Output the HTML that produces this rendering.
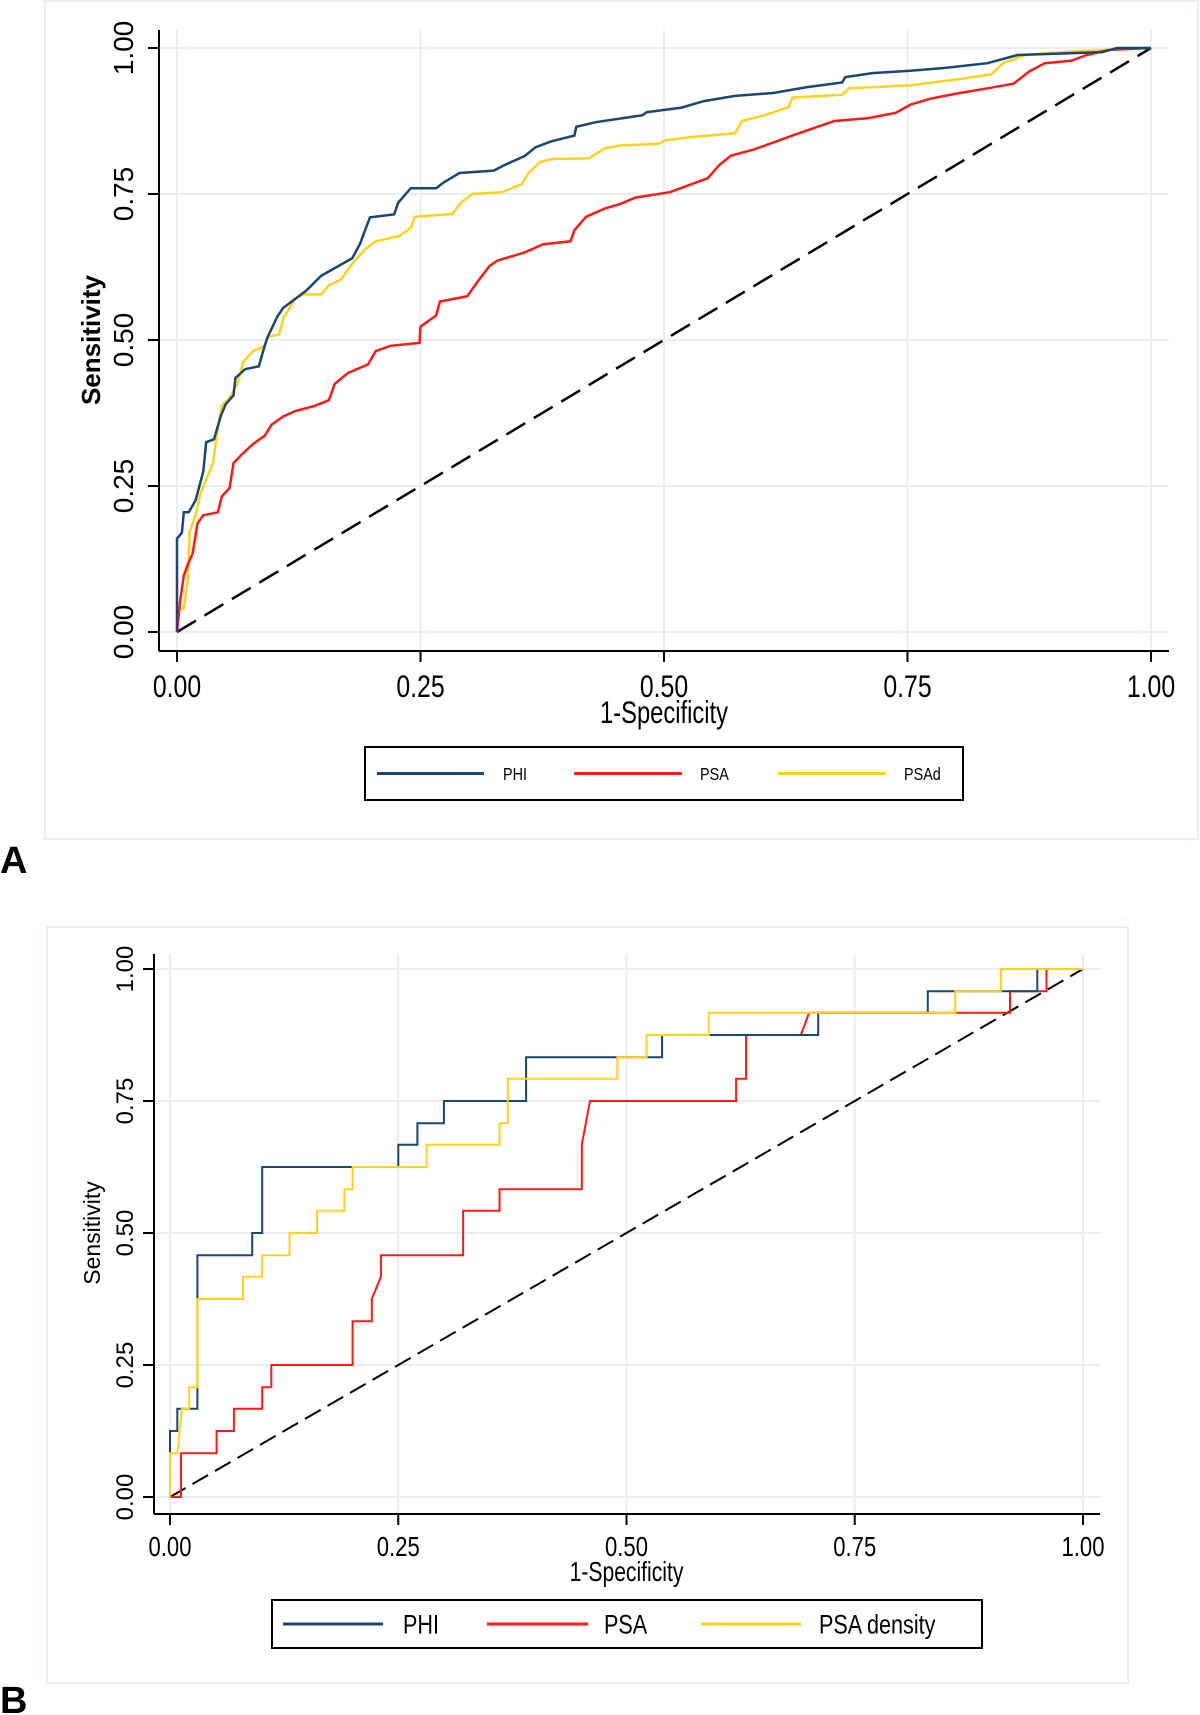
<!DOCTYPE html>
<html><head><meta charset="utf-8"><style>
html,body{margin:0;padding:0;background:#fff;overflow:hidden;}
svg{display:block;font-family:"Liberation Sans",Arial,sans-serif;}
</style></head><body>
<svg id="fig" width="1200" height="1715" viewBox="0 0 1200 1715" xmlns="http://www.w3.org/2000/svg">
<rect x="0" y="0" width="1200" height="1715" fill="#fff"/>
<g id="panelA"></g>
<g id="panelB"></g>
<text x="0" y="873" font-size="38" font-weight="bold">A</text>
<text x="0" y="1713" font-size="38" font-weight="bold">B</text>
</svg>
<script>
// Shared axis ticks
const tickValues = [0, 0.25, 0.5, 0.75, 1];
const tickLabels = ["0.00", "0.25", "0.50", "0.75", "1.00"];

// Panel A series (1-specificity, sensitivity)
const aPhiX = [0,0,0.005,0.007,0.012,0.019,0.027,0.03,0.038,0.045,0.05,0.058,0.06,0.07,0.084,0.09,0.093,0.103,0.109,0.121,0.133,0.148,0.164,0.18,0.188,0.198,0.223,0.227,0.24,0.266,0.274,0.29,0.325,0.337,0.357,0.368,0.384,0.408,0.41,0.43,0.478,0.482,0.518,0.541,0.573,0.612,0.647,0.683,0.686,0.714,0.753,0.789,0.832,0.863,0.95,0.965,1];
const aPhiY = [0,0.16,0.17,0.205,0.205,0.225,0.275,0.325,0.33,0.37,0.39,0.405,0.435,0.45,0.455,0.49,0.505,0.54,0.555,0.57,0.585,0.61,0.625,0.64,0.665,0.71,0.715,0.735,0.76,0.76,0.77,0.786,0.79,0.8,0.815,0.83,0.84,0.85,0.865,0.873,0.885,0.89,0.898,0.909,0.918,0.923,0.933,0.941,0.95,0.957,0.961,0.966,0.974,0.988,0.993,1,1];
const aPsaX = [0,0.003,0.007,0.011,0.016,0.021,0.027,0.042,0.046,0.054,0.058,0.066,0.078,0.09,0.097,0.109,0.121,0.141,0.156,0.162,0.176,0.196,0.204,0.219,0.249,0.25,0.266,0.27,0.298,0.31,0.321,0.329,0.357,0.376,0.404,0.408,0.42,0.439,0.455,0.471,0.506,0.522,0.545,0.557,0.569,0.592,0.612,0.635,0.659,0.675,0.71,0.738,0.753,0.773,0.8,0.836,0.859,0.875,0.891,0.918,0.934,0.958,1];
const aPsaY = [0,0.05,0.097,0.115,0.134,0.186,0.2,0.205,0.232,0.247,0.289,0.303,0.322,0.336,0.355,0.369,0.378,0.387,0.397,0.425,0.444,0.458,0.481,0.49,0.495,0.523,0.542,0.566,0.575,0.603,0.627,0.636,0.65,0.664,0.669,0.688,0.711,0.725,0.733,0.744,0.753,0.763,0.777,0.8,0.816,0.826,0.838,0.852,0.866,0.875,0.88,0.889,0.903,0.913,0.922,0.932,0.939,0.96,0.974,0.978,0.988,0.997,1];
const aPsadX = [0,0,0.007,0.011,0.013,0.019,0.024,0.031,0.037,0.042,0.046,0.054,0.062,0.068,0.078,0.09,0.093,0.105,0.109,0.121,0.129,0.148,0.156,0.168,0.18,0.193,0.204,0.228,0.24,0.244,0.283,0.291,0.303,0.334,0.354,0.361,0.373,0.385,0.423,0.439,0.455,0.494,0.502,0.525,0.573,0.58,0.604,0.628,0.632,0.683,0.69,0.753,0.8,0.836,0.848,0.871,0.918,1];
const aPsadY = [0,0.04,0.04,0.087,0.172,0.2,0.237,0.265,0.289,0.35,0.387,0.401,0.425,0.462,0.481,0.49,0.505,0.51,0.537,0.57,0.578,0.578,0.594,0.603,0.631,0.655,0.669,0.678,0.692,0.711,0.716,0.734,0.75,0.753,0.767,0.786,0.805,0.81,0.811,0.828,0.833,0.836,0.842,0.847,0.854,0.875,0.885,0.899,0.915,0.92,0.931,0.936,0.946,0.955,0.974,0.988,0.994,1];

// Panel B series
const bPhiX = [0,0,0.008,0.008,0.03,0.03,0.09,0.09,0.101,0.101,0.25,0.25,0.271,0.271,0.3,0.3,0.39,0.39,0.539,0.539,0.71,0.71,0.83,0.83,0.95,0.95,1];
const bPhiY = [0,0.125,0.125,0.167,0.167,0.458,0.458,0.5,0.5,0.625,0.625,0.667,0.667,0.708,0.708,0.75,0.75,0.833,0.833,0.875,0.875,0.917,0.917,0.958,0.958,1,1];
const bPsaX = [0,0.012,0.012,0.051,0.051,0.07,0.07,0.101,0.101,0.111,0.111,0.2,0.2,0.221,0.221,0.231,0.231,0.321,0.321,0.361,0.361,0.451,0.451,0.46,0.62,0.62,0.631,0.631,0.691,0.7,0.92,0.92,0.96,0.96,1];
const bPsaY = [0,0,0.083,0.083,0.125,0.125,0.167,0.167,0.208,0.208,0.25,0.25,0.333,0.333,0.375,0.417,0.458,0.458,0.542,0.542,0.583,0.583,0.667,0.75,0.75,0.792,0.792,0.875,0.875,0.917,0.917,0.958,0.958,1,1];
const bPsadX = [0,0,0.008,0.013,0.013,0.021,0.021,0.03,0.03,0.08,0.08,0.101,0.101,0.131,0.131,0.161,0.161,0.191,0.191,0.2,0.2,0.281,0.281,0.361,0.361,0.37,0.37,0.49,0.49,0.522,0.522,0.59,0.59,0.86,0.86,0.91,0.91,1];
const bPsadY = [0,0.083,0.083,0.167,0.167,0.167,0.208,0.208,0.375,0.375,0.417,0.417,0.458,0.458,0.5,0.5,0.542,0.542,0.583,0.583,0.625,0.625,0.667,0.667,0.708,0.708,0.792,0.792,0.833,0.833,0.875,0.875,0.917,0.917,0.958,0.958,1,1];

const NS = "http://www.w3.org/2000/svg";
function mk(parent, tag, attrs, text) {
  const el = document.createElementNS(NS, tag);
  for (const k in attrs) el.setAttribute(k, attrs[k]);
  if (text !== undefined) el.textContent = text;
  parent.appendChild(el);
  return el;
}

function drawPanel(g, cfg) {
  const sx = v => cfg.x0 + v * (cfg.x1 - cfg.x0);
  const sy = v => cfg.y0 - v * (cfg.y0 - cfg.y1);
  const frame = mk(g, "rect", {x: cfg.fx, y: cfg.fy, width: cfg.fw, height: cfg.fh, fill: "none", stroke: "#e6eff2", "stroke-width": 2});
  
  
  tickValues.forEach((t, i) => {
    const gx = mk(g, "line", {x1: sx(t), x2: sx(t), y1: cfg.axTop, y2: cfg.axB, stroke: "#e8eff2", "stroke-width": 2});
    
    
    const gy = mk(g, "line", {x1: cfg.axL, x2: cfg.axR, y1: sy(t), y2: sy(t), stroke: "#e8eff2", "stroke-width": 2});
    
    
  });
  const xa = mk(g, "line", {x1: cfg.axL, x2: cfg.axR, y1: cfg.axB, y2: cfg.axB, stroke: "#000", "stroke-width": 2});
  
  
  const ya = mk(g, "line", {x1: cfg.axL, x2: cfg.axL, y1: cfg.axTop, y2: cfg.axB, stroke: "#000", "stroke-width": 2});
  
  
  tickValues.forEach((t, i) => {
    const tx = mk(g, "line", {x1: sx(t), x2: sx(t), y1: cfg.axB, y2: cfg.axB + 11, stroke: "#000", "stroke-width": 2});
    
    
    const ty = mk(g, "line", {x1: cfg.axL - 11, x2: cfg.axL, y1: sy(t), y2: sy(t), stroke: "#000", "stroke-width": 2});
    
    
    const lx = mk(g, "text", {x: 0, y: 0, "font-size": cfg.tickFs, "text-anchor": "middle", transform: `translate(${sx(t)},${cfg.tickLabY}) scale(0.92,1.15)`}, tickLabels[i]);
    
    
    const ly = mk(g, "text", {x: 0, y: 0, "font-size": cfg.yTickFs, "text-anchor": "middle", transform: `translate(${cfg.yTickX},${sy(t)}) rotate(-90)`}, tickLabels[i]);
    
    
  });
  const xt = mk(g, "text", {x: 0, y: 0, "font-size": cfg.titleFs, "text-anchor": "middle", transform: `translate(${(cfg.x0 + cfg.x1) / 2},${cfg.titleY}) scale(0.88,1.15)`}, "1-Specificity");
  
  
  const yt = mk(g, "text", {x: 0, y: 0, "font-size": cfg.yTitleFs, "font-weight": cfg.yTitleW, "text-anchor": "middle", transform: `translate(${cfg.yTitleX},${(cfg.y0 + cfg.y1) / 2}) rotate(-90)`}, "Sensitivity");
  
  
  const diag = mk(g, "line", {x1: sx(0), y1: sy(0), x2: sx(1), y2: sy(1), stroke: "#000", "stroke-width": cfg.lw, "stroke-dasharray": cfg.dash});
  
  
  cfg.series.forEach(s => {
    const pts = s.xs.map((v, i) => sx(v).toFixed(1) + "," + sy(s.ys[i]).toFixed(1)).join(" ");
    const pl = mk(g, "polyline", {points: pts, fill: "none", stroke: s.color, "stroke-width": cfg.lw, "stroke-linejoin": "miter"});
    
    
  });
  const lb = mk(g, "rect", {x: cfg.lgX, y: cfg.lgY, width: cfg.lgW, height: cfg.lgH, fill: "#fff", stroke: "#000", "stroke-width": 2});
  
  
  const ly = cfg.lgY + cfg.lgH / 2;
  cfg.legend.forEach(e => {
    const ln = mk(g, "line", {x1: e.l1, x2: e.l2, y1: ly, y2: ly, stroke: e.color, "stroke-width": 3});
    
    
    const tx = mk(g, "text", {x: 0, y: 0, "font-size": cfg.lgFs, transform: `translate(${e.tx},${ly + cfg.lgFs * 0.4}) scale(0.9,1.12)`}, e.label);
    
    
  });
}

const NAVY = "#1a476f", RED = "#ff1a1a", YEL = "#ffd21f";

drawPanel(document.getElementById("panelA"), {
  x0: 177, x1: 1151, y0: 632, y1: 48,
  axL: 159, axR: 1169, axB: 651, axTop: 30,
  fx: 45, fy: 1, fw: 1153, fh: 838,
  tickLabY: 697, tickFs: 27, yTickX: 133, yTickFs: 28,
  titleY: 723, titleFs: 27, yTitleX: 100, yTitleFs: 26, yTitleW: "bold",
  lw: 2.5, dash: "22,10",
  lgX: 365, lgY: 747, lgW: 598, lgH: 53, lgFs: 16,
  series: [
    {name: "psad-curve", xs: aPsadX, ys: aPsadY, color: YEL},
    {name: "psa-curve", xs: aPsaX, ys: aPsaY, color: RED},
    {name: "phi-curve", xs: aPhiX, ys: aPhiY, color: NAVY}
  ],
  legend: [
    {l1: 377, l2: 484, tx: 503, color: NAVY, label: "PHI"},
    {l1: 574, l2: 682, tx: 700, color: RED, label: "PSA"},
    {l1: 778, l2: 886, tx: 904, color: YEL, label: "PSAd"}
  ]
});

drawPanel(document.getElementById("panelB"), {
  x0: 170, x1: 1083, y0: 1497, y1: 969,
  axL: 154, axR: 1100, axB: 1514, axTop: 954,
  fx: 47, fy: 927, fw: 1081, fh: 756,
  tickLabY: 1556, tickFs: 24, yTickX: 133, yTickFs: 24,
  titleY: 1581, titleFs: 24, yTitleX: 100, yTitleFs: 23, yTitleW: "normal",
  lw: 2, dash: "18,8",
  lgX: 272, lgY: 1600, lgW: 710, lgH: 48, lgFs: 24,
  series: [
    {name: "psa-curve", xs: bPsaX, ys: bPsaY, color: RED},
    {name: "phi-curve", xs: bPhiX, ys: bPhiY, color: NAVY},
    {name: "psa-density-curve", xs: bPsadX, ys: bPsadY, color: YEL}
  ],
  legend: [
    {l1: 283, l2: 383, tx: 403, color: NAVY, label: "PHI"},
    {l1: 487, l2: 588, tx: 604, color: RED, label: "PSA"},
    {l1: 701, l2: 801, tx: 819, color: YEL, label: "PSA density"}
  ]
});
</script>
</body></html>
